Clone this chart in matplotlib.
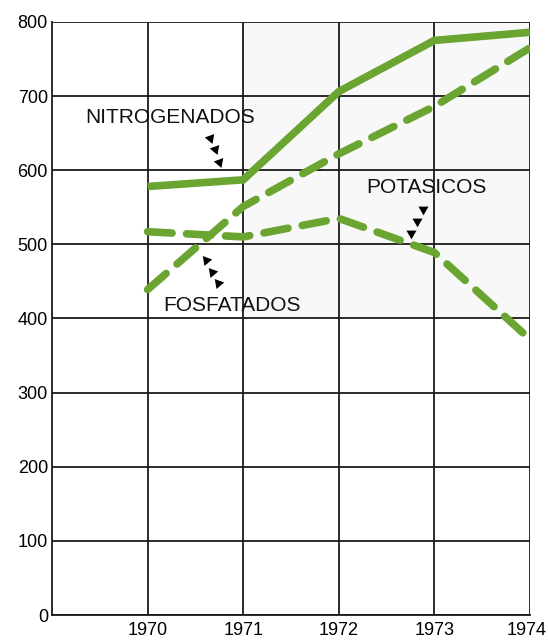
import matplotlib.pyplot as plt
from matplotlib.patches import Rectangle
from matplotlib.transforms import ScaledTranslation

years = [1970, 1971, 1972, 1973, 1974]
nitrogenados = [578, 587, 706, 775, 786]
fosfatados = [439, 551, 622, 686, 765]
potasicos = [517, 510, 535, 489, 372]

y_ticks = [0, 100, 200, 300, 400, 500, 600, 700, 800]
x_ticks = [1970, 1971, 1972, 1973, 1974]

# label text and positions (data coords)
labels = ["NITROGENADOS", "FOSFATADOS", "POTASICOS"]
label_x = [1970.24, 1970.88, 1972.92]
label_y = [671, 418, 577]

# little chains of triangles pointing at each line
arrow_x = [[1970.65, 1970.71, 1970.75],
           [1970.61, 1970.67, 1970.74],
           [1972.88, 1972.82, 1972.76]]
arrow_y = [[644, 628, 611],
           [479, 463, 448],
           [548, 532, 515]]
arrow_marker = [(3, 0, 80), (3, 0, -80), (3, 0, -60)]

green = "#6aa532"

plt.rcParams['font.family'] = ['Liberation Sans', 'DejaVu Sans']

fig = plt.figure(figsize=(5.48, 6.44), dpi=100)
ax = fig.add_axes([0.095, 0.045, 0.872, 0.921])

# faint grey shading from the scan
ax.add_patch(Rectangle((1971, 400), 3, 400, color="#f8f8f8", zorder=0, lw=0))

ax.plot(years, nitrogenados, color=green, lw=5.5, solid_capstyle="butt", zorder=3)
ax.plot(years, fosfatados, color=green, lw=5.5, dashes=(3.2, 1.9),
        dash_capstyle="round", zorder=3)
ax.plot(years, potasicos, color=green, lw=5.5, dashes=(3.2, 1.9),
        dash_capstyle="round", zorder=3)

for t, x, y in zip(labels, label_x, label_y):
    ax.text(x, y, t, ha="center", va="center", fontsize=15, color="#111111", zorder=4)

for xs, ys, m in zip(arrow_x, arrow_y, arrow_marker):
    ax.scatter(xs, ys, marker=m, s=70, color="black", zorder=4, linewidths=0)

ax.set_xlim(1969, 1974)
ax.set_ylim(0, 800)
ax.set_yticks(y_ticks)
ax.set_xticks(x_ticks)
ax.set_yticklabels([str(v) for v in y_ticks], fontsize=13)
ax.set_xticklabels([str(v) for v in x_ticks], fontsize=13)
ax.tick_params(length=0, pad=3)
ax.tick_params(axis="x", pad=5)
# last year label sits against the right edge
last = ax.get_xticklabels()[-1]
last.set_transform(last.get_transform() + ScaledTranslation(-3 / 100, 0, fig.dpi_scale_trans))

ax.grid(True, color="#1a1a1a", lw=1.3, zorder=1)
ax.set_axisbelow(True)
for side in ["top", "right"]:
    ax.spines[side].set_visible(False)
for side in ["left", "bottom"]:
    ax.spines[side].set_linewidth(1.3)
    ax.spines[side].set_color("#1a1a1a")

fig.savefig("out.png", dpi=100)
